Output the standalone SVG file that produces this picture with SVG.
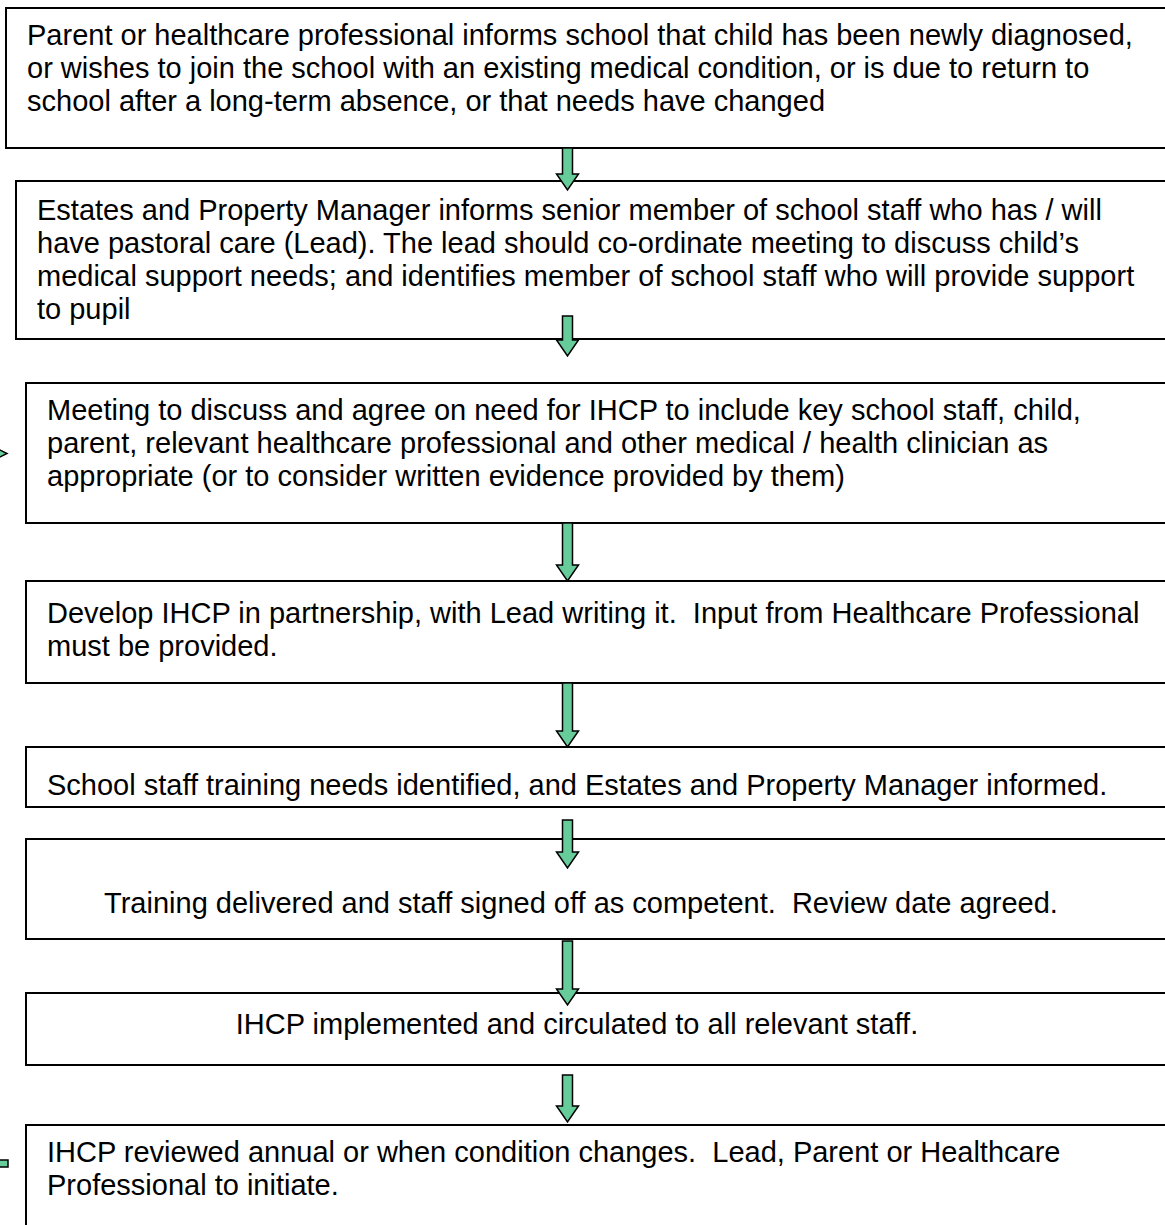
<svg xmlns="http://www.w3.org/2000/svg" width="1165" height="1225" viewBox="0 0 1165 1225">
<style>
.box{fill:#ffffff;stroke:#000000;stroke-width:2}
.t{font-family:"Liberation Sans",Arial,sans-serif;font-size:29px;fill:#000000;white-space:pre}
.c{text-anchor:middle}
.arr{fill:#66CC99;stroke:#000000;stroke-width:1.5;stroke-linejoin:miter}
</style>
<rect width="1165" height="1225" fill="#ffffff"/>
<g id="node1">
<rect class="box" x="6" y="8" width="1170" height="140"/>
<text class="t" x="27" y="45">Parent or healthcare professional informs school that child has been newly diagnosed,</text>
<text class="t" x="27" y="78">or wishes to join the school with an existing medical condition, or is due to return to</text>
<text class="t" x="27" y="111">school after a long-term absence, or that needs have changed</text>
</g>
<g id="node2">
<rect class="box" x="16" y="181" width="1160" height="158"/>
<text class="t" x="37" y="220">Estates and Property Manager informs senior member of school staff who has / will</text>
<text class="t" x="37" y="253">have pastoral care (Lead). The lead should co-ordinate meeting to discuss child’s</text>
<text class="t" x="37" y="286">medical support needs; and identifies member of school staff who will provide support</text>
<text class="t" x="37" y="319">to pupil</text>
</g>
<g id="node3">
<rect class="box" x="26" y="383" width="1150" height="140"/>
<text class="t" x="47" y="420">Meeting to discuss and agree on need for IHCP to include key school staff, child,</text>
<text class="t" x="47" y="453">parent, relevant healthcare professional and other medical / health clinician as</text>
<text class="t" x="47" y="486">appropriate (or to consider written evidence provided by them)</text>
</g>
<g id="node4">
<rect class="box" x="26" y="581" width="1150" height="102"/>
<text class="t" x="47" y="623" xml:space="preserve">Develop IHCP in partnership, with Lead writing it.  Input from Healthcare Professional</text>
<text class="t" x="47" y="656">must be provided.</text>
</g>
<g id="node5">
<rect class="box" x="26" y="747" width="1150" height="60"/>
<text class="t" x="47" y="795">School staff training needs identified, and Estates and Property Manager informed.</text>
</g>
<g id="node6">
<rect class="box" x="26" y="839" width="1150" height="100"/>
<text class="t c" x="581" y="913" xml:space="preserve">Training delivered and staff signed off as competent.  Review date agreed.</text>
</g>
<g id="node7">
<rect class="box" x="26" y="993" width="1150" height="72"/>
<text class="t c" x="577" y="1034">IHCP implemented and circulated to all relevant staff.</text>
</g>
<g id="node8">
<rect class="box" x="26" y="1125" width="1150" height="140"/>
<text class="t" x="47" y="1162" xml:space="preserve">IHCP reviewed annual or when condition changes.  Lead, Parent or Healthcare</text>
<text class="t" x="47" y="1195">Professional to initiate.</text>
</g>
<g id="connectors">
<path class="arr" d="M562.5,148 H572.5 V174 H578.5 L567.5,190 L556.5,174 H562.5 Z"/>
<path class="arr" d="M562.5,316 H572.5 V340 H578.5 L567.5,356 L556.5,340 H562.5 Z"/>
<path class="arr" d="M562.5,523 H572.5 V565 H578.5 L567.5,581 L556.5,565 H562.5 Z"/>
<path class="arr" d="M562.5,683 H572.5 V731 H578.5 L567.5,747 L556.5,731 H562.5 Z"/>
<path class="arr" d="M562.5,820 H572.5 V852 H578.5 L567.5,868 L556.5,852 H562.5 Z"/>
<path class="arr" d="M562.5,941 H572.5 V989 H578.5 L567.5,1005 L556.5,989 H562.5 Z"/>
<path class="arr" d="M562.5,1075 H572.5 V1106 H578.5 L567.5,1122 L556.5,1106 H562.5 Z"/>
<path class="arr" d="M-6,447 L7,453.5 L-6,460 Z"/>
<path class="arr" d="M-5,1160 H8 V1167 H-5 Z"/>
</g>
</svg>
